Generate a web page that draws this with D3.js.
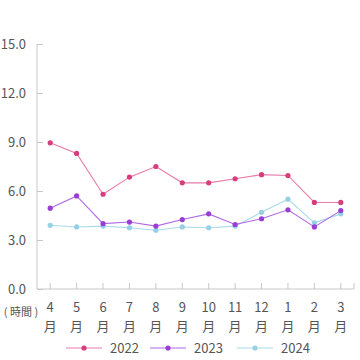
<!DOCTYPE html>
<html><head><meta charset="utf-8">
<script src="https://cdn.jsdelivr.net/npm/d3@7"></script>
<style>body{margin:0;background:#fff}svg{display:block}</style>
</head><body>
<svg id="c" width="360" height="360"></svg>
<script>
const months = ["4","5","6","7","8","9","10","11","12","1","2","3"];
const yTicks = [0, 3, 6, 9, 12, 15];
const seriesNames = ["2022", "2023", "2024"];
const v2022 = [8.95, 8.3, 5.8, 6.85, 7.5, 6.5, 6.5, 6.75, 7.0, 6.95, 5.3, 5.3];
const v2023 = [4.95, 5.7, 4.0, 4.1, 3.85, 4.25, 4.6, 3.95, 4.3, 4.85, 3.8, 4.8];
const v2024 = [3.9, 3.8, 3.85, 3.75, 3.6, 3.8, 3.75, 3.85, 4.7, 5.5, 4.05, 4.6];
const lineColors = ["#e77aa6", "#b069e3", "#a9dbea"];
const dotColors = ["#d63f7f", "#9a3dd6", "#96d0e4"];
const allValues = [v2022, v2023, v2024];

(function () {
const svg = d3.select("#c");
const font = "'Noto Sans CJK JP', 'Noto Sans', sans-serif";
const mL = 37, mR = 354, mT = 44, mB = 289;
const x = d3.scaleBand().domain(months).range([mL, mR]);
const y = d3.scaleLinear().domain([0, 15]).range([mB, mT]);

// y axis
const ya = svg.append("g").attr("transform", `translate(${mL},0)`)
  .call(d3.axisLeft(y).tickValues(yTicks).tickSize(-6).tickPadding(11).tickFormat(d3.format(".1f")));
ya.select(".domain").attr("stroke", "#c8c8c8").attr("d", `M0,${mT}V${mB}`);
ya.selectAll(".tick line").attr("stroke", "#c8c8c8");
ya.selectAll(".tick text").attr("fill", "#555").attr("font-size", 13).attr("font-family", font);

// x axis
const xa = svg.append("g").attr("transform", `translate(0,${mB})`)
  .call(d3.axisBottom(x).tickSize(-6).tickFormat(""));
xa.select(".domain").attr("stroke", "#c8c8c8").attr("d", `M${mL},0H${mR}V-6`);
xa.selectAll(".tick line").attr("stroke", "#c8c8c8");
const lab = svg.append("g").attr("font-family", font).attr("font-size", 13).attr("fill", "#555").attr("text-anchor", "middle");
months.forEach(m => {
  const cx = x(m) + x.bandwidth() / 2;
  lab.append("text").attr("x", cx).attr("y", 312).text(m);
  lab.append("text").attr("x", cx).attr("y", 331).text("月");
});
svg.append("text").attr("x", 21).attr("y", 316).attr("text-anchor", "middle")
  .attr("font-family", font).attr("font-size", 11).attr("fill", "#555").text("( 時間 )");

// lines
const line = d3.line().x((d, i) => x(months[i]) + x.bandwidth() / 2).y(d => y(d));
[2, 1, 0].forEach(k => {
  const vals = allValues[k];
  svg.append("path").attr("d", line(vals)).attr("fill", "none")
    .attr("stroke", lineColors[k]).attr("stroke-width", 1.1);
  svg.append("g").selectAll("circle").data(vals).join("circle")
    .attr("cx", (d, i) => x(months[i]) + x.bandwidth() / 2)
    .attr("cy", d => y(d)).attr("r", 2.6).attr("fill", dotColors[k]);
});

// legend
const lx = [66, 150, 237];
seriesNames.forEach((s, k) => {
  const g = svg.append("g").attr("transform", `translate(${lx[k]},348)`);
  g.append("line").attr("x1", 0).attr("x2", 36).attr("y1", 0).attr("y2", 0)
    .attr("stroke", lineColors[k]).attr("stroke-width", 1.1);
  g.append("circle").attr("cx", 18).attr("cy", 0).attr("r", 2.6).attr("fill", dotColors[k]);
  g.append("text").attr("x", 44).attr("y", 4.5).attr("font-family", font)
    .attr("font-size", 13).attr("fill", "#555").text(s);
});
})();
</script>
</body></html>
